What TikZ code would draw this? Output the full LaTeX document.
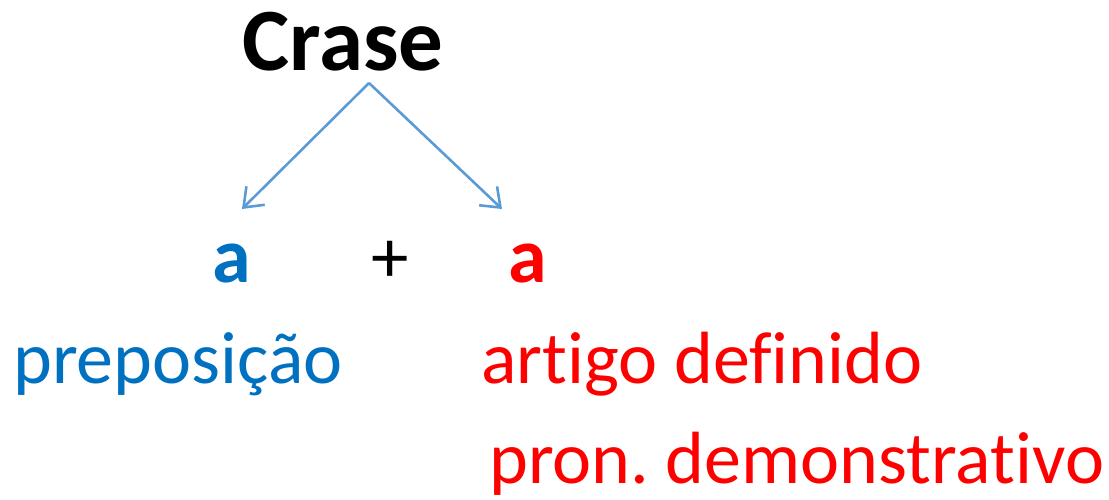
\documentclass[tikz,border=0pt]{standalone}
\usepackage{fontspec}
\setmainfont{Carlito}[Ligatures=NoCommon]
\usetikzlibrary{arrows.meta}
\definecolor{azul}{HTML}{0070C0}
\definecolor{vermelho}{HTML}{FF0000}
\definecolor{setacor}{HTML}{5B9BD5}
\frenchspacing
\begin{document}
\begin{tikzpicture}[x=1pt,y=-1pt,
    seta/.style={setacor,line width=2.6pt,-{Straight Barb[length=17pt,width=26pt,line width=2.6pt]}},
    txt/.style={font=\fontsize{74}{80}\selectfont,anchor=base west},
    letra/.style={font=\fontsize{78}{84}\selectfont\bfseries,anchor=base}]
    \tikzstyle{every node}+=[inner sep=0pt]
    \useasboundingbox (0,0) rectangle (1109,500);
    \node [font=\fontsize{89}{96}\selectfont\bfseries,anchor=base] (crase) at (343,71) {Crase};
    \coordinate (topo) at (369,83);
    \coordinate (pontaA) at (242,209);
    \coordinate (pontaB) at (502,209);
    \draw [seta] (topo) -- (pontaA);
    \draw [seta] (topo) -- (pontaB);
    \node [letra,azul] (prep) at (232,282) {a};
    \node [font=\fontsize{75}{80}\selectfont,anchor=base] (mais) at (390,282) {+};
    \node [letra,vermelho] (art) at (528,282) {a};
    \node [txt,azul] (preposicao) at (13,383) {preposição};
    \node [txt,vermelho] (artigo) at (481,383) {artigo definido};
    \node [txt,vermelho] (pronome) at (489,483) {pron. demonstrativo};
\end{tikzpicture}
\end{document}
